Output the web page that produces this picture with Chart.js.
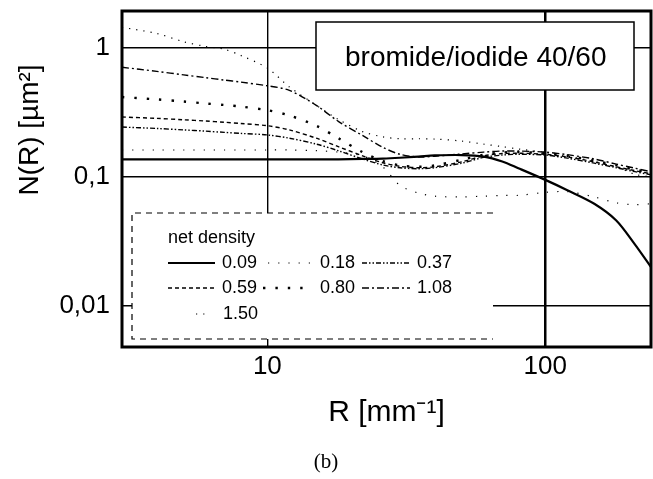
<!DOCTYPE html>
<html><head><meta charset="utf-8">
<script src="https://cdn.jsdelivr.net/npm/chart.js@4.4.1/dist/chart.umd.min.js"></script>
<style>html,body{margin:0;padding:0;background:#fff;}#wrap{width:653px;height:479px;position:relative;}</style>
</head><body><div id="wrap"><canvas id="c" width="653" height="479"></canvas></div>
<script>
// ---- data ----
const radii      = [3, 4, 5, 6, 7, 8, 10, 12, 15, 18, 22, 26, 30, 35, 40, 50, 60, 70, 80, 100, 120, 150, 180, 210, 240];
const density009 = [.137,.137,.137,.137,.137,.137,.137,.137,.137,.137,.138,.139,.141,.144,.147,.148,.144,.132,.117,.095,.079,.062,.046,.030,.020];
const density018 = [.162,.162,.162,.162,.162,.162,.162,.162,.160,.156,.146,.120,.086,.075,.071,.070,.071,.072,.072,.076,.077,.070,.063,.061,.062];
const density037 = [.244,.238,.232,.227,.222,.218,.212,.200,.180,.160,.138,.124,.118,.116,.118,.128,.142,.148,.150,.148,.140,.128,.118,.110,.104];
const density059 = [.292,.285,.278,.272,.266,.260,.250,.232,.200,.172,.146,.129,.121,.118,.120,.131,.146,.152,.153,.150,.143,.131,.120,.112,.106];
const density080 = [.417,.400,.385,.372,.362,.352,.330,.300,.250,.200,.156,.133,.123,.120,.123,.136,.149,.155,.156,.153,.146,.134,.123,.114,.108];
const density108 = [.710,.660,.620,.590,.565,.545,.510,.470,.360,.270,.210,.170,.150,.143,.145,.151,.156,.159,.159,.156,.149,.138,.126,.117,.110];
const density150 = [1.45,1.30,1.12,1.03,0.98,0.88,0.70,0.50,0.36,0.28,.225,.205,.198,.198,.197,.190,.180,.172,.165,.155,.145,.132,.120,.105,.100];
const seriesLabels = ['0.09','0.18','0.37','0.59','0.80','1.08','1.50'];
const xTickValues = [10, 100];
const xTickLabels = ['10', '100'];
const yTickValues = [1, 0.1, 0.01];
const yTickLabels = ['1', '0,1', '0,01'];
const panelTitle = 'bromide/iodide 40/60';
const legendTitle = 'net density';
const xTitle = 'R [mm\u207B\u00B9]';
const yTitle = 'N(R) [\u00B5m\u00B2]';
const caption = '(b)';

// ---- styles ----
const allSeries = [density009, density018, density037, density059, density080, density108, density150];
const styles = [
  {w: 2.2, dash: []},
  {w: 1.2, dash: [1.2, 9]},
  {w: 1.4, dash: [5, 2, 1.5, 2, 1.5, 2]},
  {w: 1.4, dash: [4, 3]},
  {w: 2.4, dash: [2.4, 10]},
  {w: 1.4, dash: [7, 3, 2, 3]},
  {w: 1.2, dash: [1.2, 6]}
];
const FONT = '"Liberation Sans", Arial, sans-serif';

const datasets = allSeries.map((vals, i) => ({
  label: seriesLabels[i],
  data: radii.map((r, j) => ({x: r, y: vals[j]})),
  borderColor: '#000',
  borderWidth: styles[i].w,
  borderDash: styles[i].dash,
  pointRadius: 0,
  fill: false,
  tension: 0.3
}));

// legend layout: [sampleStart, sampleEnd, labelX, rowY]
const legendSlots = [
  [168, 215, 222, 263],
  [268, 315, 320, 263],
  [362, 410, 417, 263],
  [168, 215, 222, 288],
  [263, 312, 320, 288],
  [362, 410, 417, 288],
  [196, 205, 223, 314]
];

const decor = {
  id: 'decor',
  afterDatasetsDraw(chart) {
    const ctx = chart.ctx, ca = chart.chartArea;
    ctx.save();
    // panel title box
    ctx.fillStyle = '#fff';
    ctx.fillRect(316, 22, 318, 68);
    ctx.strokeStyle = '#000'; ctx.lineWidth = 1.5; ctx.setLineDash([]);
    ctx.strokeRect(316, 22, 318, 68);
    ctx.fillStyle = '#000';
    ctx.font = '28px ' + FONT;
    ctx.textAlign = 'left'; ctx.textBaseline = 'middle';
    ctx.fillText(panelTitle, 345, 58);
    // legend box
    ctx.fillStyle = '#fff';
    ctx.fillRect(132, 213, 361, 126);
    ctx.strokeStyle = '#000'; ctx.lineWidth = 1.2; ctx.setLineDash([6, 5]);
    ctx.beginPath();
    ctx.moveTo(493, 213); ctx.lineTo(132, 213); ctx.lineTo(132, 339); ctx.lineTo(493, 339);
    ctx.stroke();
    ctx.setLineDash([]);
    ctx.fillStyle = '#000';
    ctx.font = '18px ' + FONT;
    ctx.fillText(legendTitle, 168, 238);
    legendSlots.forEach((s, i) => {
      const ds = chart.data.datasets[i];
      ctx.strokeStyle = '#000';
      ctx.lineWidth = ds.borderWidth;
      ctx.setLineDash(ds.borderDash);
      ctx.beginPath(); ctx.moveTo(s[0], s[3]); ctx.lineTo(s[1], s[3]); ctx.stroke();
      ctx.setLineDash([]);
      ctx.fillText(ds.label, s[2], s[3]);
    });
    // frame
    ctx.lineWidth = 3; ctx.setLineDash([]);
    ctx.strokeRect(ca.left, ca.top, ca.right - ca.left, ca.bottom - ca.top);
    ctx.restore();
  },
  afterDraw(chart) {
    const ctx = chart.ctx;
    ctx.save();
    ctx.fillStyle = '#000';
    ctx.translate(30, 130);
    ctx.rotate(-Math.PI / 2);
    ctx.font = '28px ' + FONT;
    ctx.textAlign = 'center'; ctx.textBaseline = 'middle';
    ctx.fillText(yTitle, 0, 0);
    ctx.restore();
    ctx.save();
    ctx.fillStyle = '#000';
    ctx.font = '21px "Liberation Serif", "Times New Roman", serif';
    ctx.textAlign = 'center'; ctx.textBaseline = 'middle';
    ctx.fillText(caption, 326, 462);
    ctx.restore();
  }
};

new Chart(document.getElementById('c'), {
  type: 'line',
  data: {datasets},
  options: {
    responsive: false,
    animation: false,
    devicePixelRatio: 1,
    layout: {padding: {top: 11, right: 2, left: 0, bottom: 0}},
    plugins: {legend: {display: false}, tooltip: {enabled: false}},
    scales: {
      x: {
        type: 'logarithmic', min: 3, max: 240,
        afterBuildTicks: s => { s.ticks = xTickValues.map(v => ({value: v})); },
        afterFit: s => { s.height = 132; s.paddingLeft = 0; s.paddingRight = 0; },
        ticks: {
          callback: (v, i) => xTickLabels[i],
          font: {size: 26, family: FONT}, color: '#000', padding: 4,
          autoSkip: false, maxRotation: 0
        },
        grid: {color: '#000', lineWidth: c => (c.tick && c.tick.value === 100 ? 2.5 : 1.4), drawTicks: false},
        border: {display: false},
        title: {display: true, text: xTitle, color: '#000', font: {size: 30, family: FONT}, padding: {top: 0, bottom: 48}}
      },
      y: {
        type: 'logarithmic', min: 0.0048, max: 1.94,
        afterBuildTicks: s => { s.ticks = yTickValues.map(v => ({value: v})); },
        afterFit: s => { s.width = 122; s.paddingTop = 0; s.paddingBottom = 0; },
        ticks: {
          callback: (v, i) => yTickLabels[i],
          font: {size: 26, family: FONT}, color: '#000', padding: 12,
          autoSkip: false
        },
        grid: {color: '#000', lineWidth: 1.4, drawTicks: false},
        border: {display: false}
      }
    }
  },
  plugins: [decor]
});
</script>
</body></html>
